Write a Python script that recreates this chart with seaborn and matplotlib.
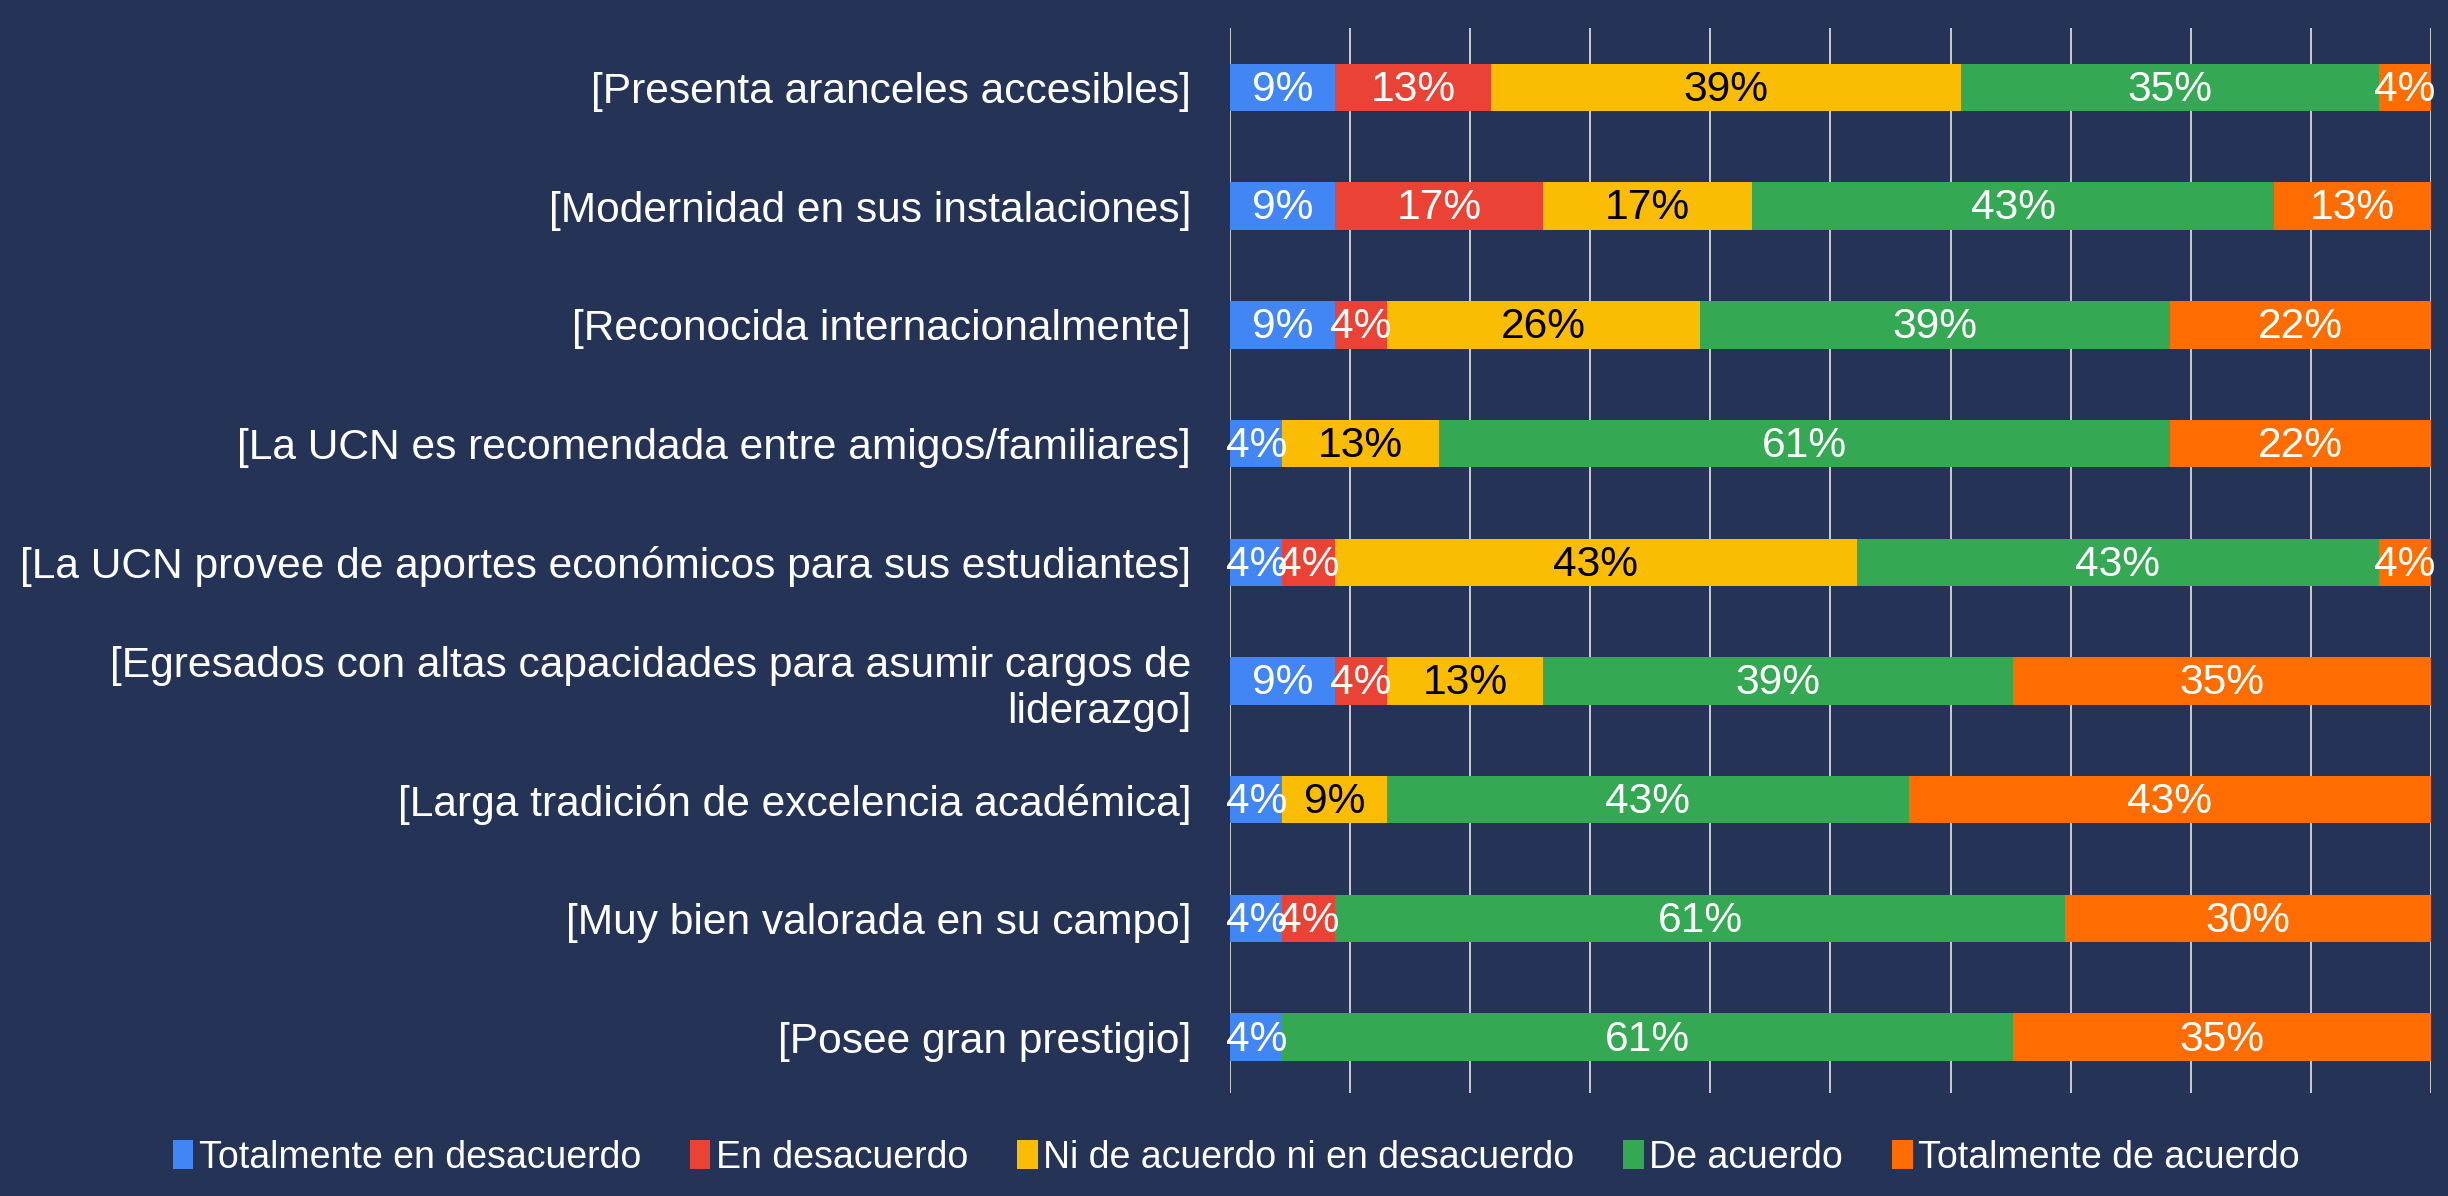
import pandas as pd
import numpy as np
import matplotlib
matplotlib.use("Agg")
import matplotlib.pyplot as plt
import seaborn as sns
from matplotlib.patches import Patch

# survey items, top to bottom
categories = [
    "[Presenta aranceles accesibles]",
    "[Modernidad en sus instalaciones]",
    "[Reconocida internacionalmente]",
    "[La UCN es recomendada entre amigos/familiares]",
    "[La UCN provee de aportes económicos para sus estudiantes]",
    "[Egresados con altas capacidades para asumir cargos de\nliderazgo]",
    "[Larga tradición de excelencia académica]",
    "[Muy bien valorada en su campo]",
    "[Posee gran prestigio]",
]
levels = [
    "Totalmente en desacuerdo",
    "En desacuerdo",
    "Ni de acuerdo ni en desacuerdo",
    "De acuerdo",
    "Totalmente de acuerdo",
]
# percentages per level
totalmente_desacuerdo = [8.70, 8.70, 8.70, 4.35, 4.35, 8.70, 4.35, 4.35, 4.35]
en_desacuerdo = [13.04, 17.39, 4.35, 0, 4.35, 4.35, 0, 4.35, 0]
ni_ni = [39.13, 17.39, 26.09, 13.04, 43.48, 13.04, 8.70, 0, 0]
de_acuerdo = [34.78, 43.48, 39.13, 60.87, 43.48, 39.13, 43.48, 60.87, 60.87]
totalmente_acuerdo = [4.35, 13.04, 21.74, 21.74, 4.35, 34.78, 43.48, 30.43, 34.78]

colors = ["#4285F4", "#EA4335", "#FBBC04", "#34A853", "#FF6D01"]
text_colors = ["white", "white", "black", "white", "white"]
bg = "#253357"


def plot_chart():
    df = pd.DataFrame(
        [totalmente_desacuerdo, en_desacuerdo, ni_ni, de_acuerdo, totalmente_acuerdo],
        index=levels, columns=categories,
    ).T
    # 100% stacked, like the original
    df = df.div(df.sum(axis=1), axis=0) * 100
    cum = df.cumsum(axis=1)

    plt.rcParams["font.family"] = ["Liberation Sans", "DejaVu Sans"]
    fig = plt.figure(figsize=(24.48, 11.96), dpi=100, facecolor=bg)
    ax = fig.add_axes([0.5025, 0.0861, 0.4905, 0.8905])
    ax.set_facecolor(bg)

    # draw cumulative bars from right to left so they stack
    for lvl, c in reversed(list(zip(levels, colors))):
        sns.barplot(x=cum[lvl].values, y=categories, color=c, orient="h",
                    width=0.4, linewidth=0, saturation=1, ax=ax, zorder=2)

    # segment labels
    for i, cat in enumerate(categories):
        left = 0
        for lvl, tc in zip(levels, text_colors):
            v = df.loc[cat, lvl]
            if v > 0:
                ax.text(left + v / 2, i + 0.02, f"{v:.0f}%", ha="center", va="center",
                        color=tc, fontsize=30.6, zorder=3)
            left += v

    ax.set_xlim(0, 100)
    ax.set_ylim(8.47, -0.5)
    ax.set_xticks(np.arange(0, 101, 10))
    ax.set_xticklabels([])
    ax.grid(axis="x", color="#d9d9d9", linewidth=1.3, zorder=0)
    ax.set_axisbelow(True)
    ax.tick_params(length=0, pad=28, labelsize=30.6, labelcolor="white")
    for lab in ax.get_yticklabels():
        lab.set_horizontalalignment("right")
        lab.set_multialignment("right")
    for s in ax.spines.values():
        s.set_visible(False)
    ax.set_xlabel("")
    ax.set_ylabel("")

    handles = [Patch(facecolor=c, edgecolor="none") for c in colors]
    fig.legend(handles, levels, loc="center", bbox_to_anchor=(0.505, 0.032),
               ncol=5, frameon=False, fontsize=27, handlelength=0.55,
               handleheight=0.8, handletextpad=0.15, columnspacing=1.3,
               labelcolor="white")

    fig.savefig("out.png", dpi=100, facecolor=bg)


def main():
    plot_chart()


if __name__ == "__main__":
    main()
